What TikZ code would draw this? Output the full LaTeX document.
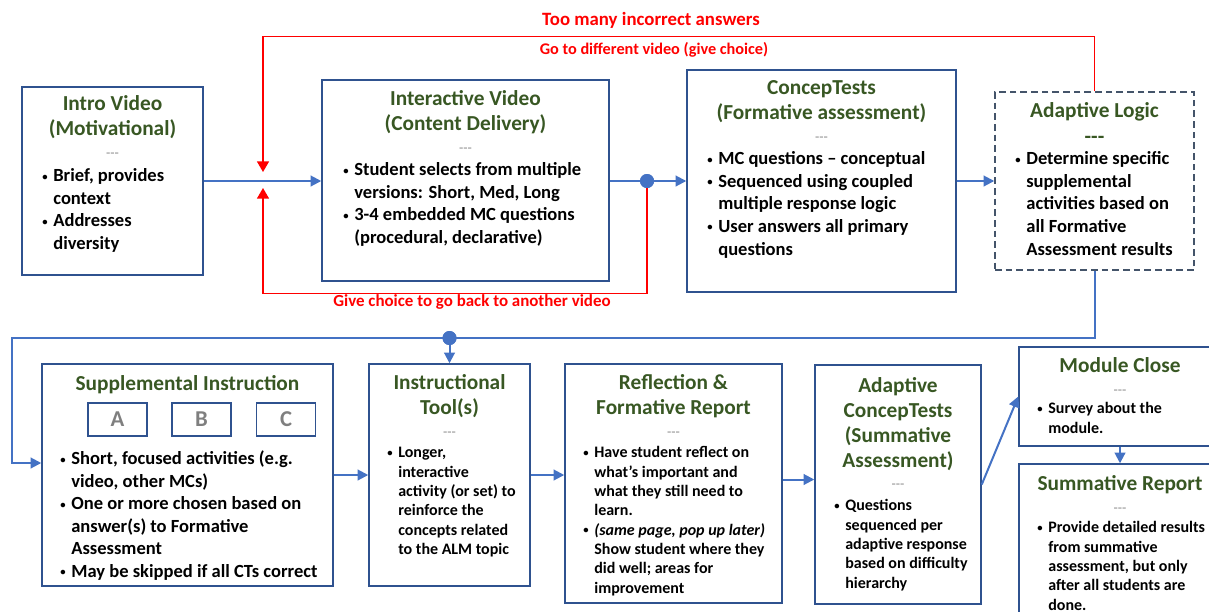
\documentclass[tikz,border=0pt]{standalone}
\usepackage{fontspec}
\setmainfont{Carlito}
\usetikzlibrary{arrows.meta,fit,positioning}

\definecolor{boxblue}{HTML}{2F528F}
\definecolor{flowblue}{HTML}{4472C4}
\definecolor{headgreen}{HTML}{385723}
\definecolor{logicgray}{HTML}{44546A}
\definecolor{loopred}{HTML}{FF0000}
\definecolor{lettergray}{HTML}{7F7F7F}
\definecolor{sepgray}{HTML}{8C8C8C}

\newdimen\pxu \pxu=0.75pt
\newcommand{\bl}{\makebox[8.3pt][l]{\raisebox{1.2pt}{\fontsize{8}{8}\selectfont\textbullet}}}
\newcommand{\nx}{\hspace*{8.3pt}}
\newcommand{\sepline}{{\color{sepgray}\mdseries\fontsize{10.5}{10.5}\selectfont -{}-{}-}}

\tikzset{
  box/.style={draw=boxblue, line width=1.1pt, inner sep=0pt},
  logicbox/.style={draw=logicgray, line width=1.1pt, dash pattern=on 5pt off 3pt, inner sep=0pt},
  head/.style={font=\bfseries\fontsize{16}{18.8}\selectfont, text=headgreen, align=center, anchor=base, inner sep=0pt},
  body/.style={font=\bfseries\fontsize{13.9}{16.9}\selectfont, align=left, anchor=base west, inner sep=0pt},
  smallbody/.style={font=\bfseries\fontsize{12}{14.5}\selectfont, align=left, anchor=base west, inner sep=0pt},
  flow/.style={draw=flowblue, line width=1.5pt, -{Triangle[length=8pt,width=8pt]}},
  loopback/.style={draw=loopred, line width=1.1pt, -{Triangle[length=8pt,width=9pt]}},
  looplabel/.style={text=loopred, anchor=base, inner sep=0pt},
  dot/.style={circle, fill=flowblue, minimum size=10.5pt, inner sep=0pt},
  letterbox/.style={draw=boxblue, line width=1pt, text=lettergray, font=\bfseries\fontsize{17}{17}\selectfont, minimum width=59\pxu, minimum height=33\pxu, inner sep=0pt}
}

\begin{document}
\begin{tikzpicture}[x=0.75pt, y=-0.75pt]
	\useasboundingbox (0,0) rectangle (1209,611);

	% boxes
	\node[box, fit={(22,87) (203,275)}]       (intro)  {};
	\node[box, fit={(322,80) (609,281)}]      (inter)  {};
	\node[box, fit={(687,70) (956,292)}]      (concep) {};
	\node[logicbox, fit={(995,92) (1194,270)}] (adapt) {};
	\node[box, fit={(42,364) (333,586)}]      (supp)   {};
	\node[box, fit={(369,364) (530,586)}]     (tools)  {};
	\node[box, fit={(565,364) (782,603)}]     (refl)   {};
	\node[box, fit={(815,365) (981,604)}]     (adct)   {};
	\node[box, fit={(1019,347) (1221,446)}]   (modc)   {};
	\node[box, fit={(1019,464) (1221,625)}]   (summ)   {};

	\node[letterbox] (optA) at (117.5,419.5) {A};
	\node[letterbox] (optB) at (201.5,419.5) {B};
	\node[letterbox] (optC) at (286,419.5)   {C};

	% titles (placed at the baseline of their last line)
	\node[head] (introT)  at (112.5,157) {Intro Video\\(Motivational)\\[-3pt]\sepline};
	\node[head] (interT)  at (465.5,152) {Interactive Video\\(Content Delivery)\\[-3pt]\sepline};
	\node[head] (concepT) at (821.5,141) {ConcepTests\\(Formative assessment)\\[-3pt]\sepline};
	\node[head] (adaptT)  at (1094.5,143) {Adaptive Logic\\-{}-{}-};
	\node[head] (suppT)   at (187.5,390)   {Supplemental Instruction};
	\node[head] (toolsT)  at (449.5,436) {Instructional\\Tool(s)\\[-3pt]\sepline};
	\node[head] (reflT)   at (673.5,436) {Reflection \&\\Formative Report\\[-3pt]\sepline};
	\node[head] (adctT)   at (898,488.3)   {Adaptive\\ConcepTests\\(Summative\\Assessment)\\[-3pt]\sepline};
	\node[head] (modcT)   at (1120,394)  {Module Close\\[-3pt]\sepline};
	\node[head] (summT)   at (1120,512)  {Summative Report\\[-3pt]\sepline};

	% bullet texts (placed at the baseline of their last line)
	\node[body] (introB)  at (42,249.5)   {\bl Brief, provides\\\nx context\\\bl Addresses\\\nx diversity};
	\node[body] (interB)  at (343,243.5)  {\bl Student selects from multiple\\\nx versions: Short, Med, Long\\\bl 3-4 embedded MC questions\\\nx (procedural, declarative)};
	\node[body] (concepB) at (707,255)  {\bl MC questions – conceptual\\\bl Sequenced using coupled\\\nx multiple response logic\\\bl User answers all primary\\\nx questions};
	\node[body] (adaptB)  at (1015,255) {\bl Determine specific\\\nx supplemental\\\nx activities based on\\\nx all Formative\\\nx Assessment results};
	\node[body] (suppB)   at (60,577.5)   {\bl Short, focused activities (e.g.\\\nx video, other MCs)\\\bl One or more chosen based on\\\nx answer(s) to Formative\\\nx Assessment\\\bl May be skipped if all CTs correct};
	\node[smallbody] (toolsB) at (387,554.5) {\bl Longer,\\\nx interactive\\\nx activity (or set) to\\\nx reinforce the\\\nx concepts related\\\nx to the ALM topic};
	\node[smallbody] (reflB)  at (583,593) {\bl Have student reflect on\\\nx what’s important and\\\nx what they still need to\\\nx learn.\\\bl \textit{(same page, pop up later)}\\\nx Show student where they\\\nx did well; areas for\\\nx improvement};
	\node[smallbody] (adctB)  at (834,588) {\bl Questions\\\nx sequenced per\\\nx adaptive response\\\nx based on difficulty\\\nx hierarchy};
	\node[smallbody] (modcB)  at (1037,433) {\bl Survey about the\\\nx module.};
	\node[smallbody] (summB)  at (1037,610) {\bl Provide detailed results\\\nx from summative\\\nx assessment, but only\\\nx after all students are\\\nx done.};

	% red loop labels
	\node[looplabel, font=\bfseries\fontsize{14.1}{16}\selectfont] (tooMany) at (651,25)  {Too many incorrect answers};
	\node[looplabel, font=\bfseries\fontsize{12.2}{14}\selectfont] (goDiff)  at (654,54)  {Go to different video (give choice)};
	\node[looplabel, font=\bfseries\fontsize{12.7}{14}\selectfont] (goBack)  at (472,306) {Give choice to go back to another video};

	% junctions
	\node[dot] (dotA) at (647,181) {};
	\node[dot] (dotB) at (449.5,338) {};
	\coordinate (tipDown) at (263,172);
	\coordinate (tipUp)   at (263,188);
	\coordinate (turn)    at (12,338);

	% flow
	\draw[flow] (intro.east) -- (intro.east -| inter.west);
	\draw[flow] (inter.east |- dotA) -- (dotA) -- (concep.west |- dotA);
	\draw[flow] (concep.east |- adapt.west) -- (adapt.west);
	\draw[flow] (adapt.south) |- (turn) |- ([yshift=9pt]supp.west);
	\draw[flow] (dotB) -- (tools.north);
	\draw[flow] (supp.east) -- (supp.east -| tools.west);
	\draw[flow] (tools.east) -- (tools.east -| refl.west);
	\draw[flow] ([yshift=3pt]refl.east) -- ([yshift=3pt]refl.east -| adct.west);
	\draw[flow] (adct.east) -- (modc.west);
	\draw[flow] (modc.south) -- (summ.north);

	% loops back
	\draw[loopback] (adapt.north) -- ++(0,-55) -| (tipDown);
	\draw[loopback] (dotA.south) -- ++(0,105) -| (tipUp);
	\node[dot] at (dotA) {};
	\node[dot] at (dotB) {};
\end{tikzpicture}
\end{document}
